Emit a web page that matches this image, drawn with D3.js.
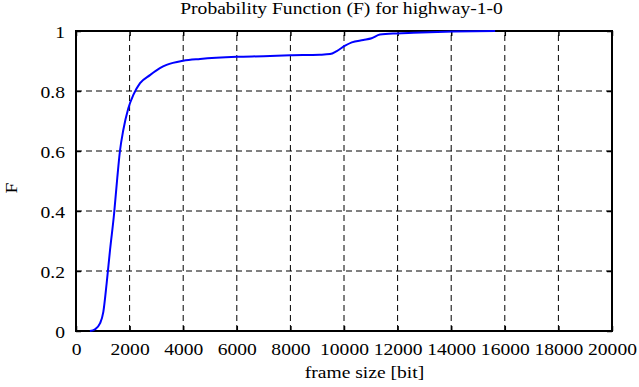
<!DOCTYPE html>
<html>
<head>
<meta charset="utf-8">
<script src="https://cdn.jsdelivr.net/npm/d3@7"></script>
<style>
  body { margin: 0; background: #fff; }
</style>
</head>
<body>
<div id="chart"></div>
<script>
// frame size [bit] and cumulative probability F
const frameSize = [520, 710, 900, 1020, 1145, 1270, 1420, 1540, 1640, 1765, 1950, 2140, 2390, 2760, 3130, 3380, 4000, 4630, 6000, 7000, 8000, 9100, 9480, 9730, 10040, 10290, 10720, 11030, 11340, 11970, 12590, 14080, 15640];
const probF = [0, 0.006, 0.026, 0.064, 0.16, 0.27, 0.39, 0.51, 0.60, 0.67, 0.742, 0.787, 0.826, 0.853, 0.876, 0.887, 0.901, 0.907, 0.914, 0.916, 0.919, 0.921, 0.923, 0.933, 0.951, 0.962, 0.97, 0.976, 0.988, 0.992, 0.994, 0.998, 1.0];
const xTicks = d3.range(0, 20001, 2000);
const yTicks = [0, 0.2, 0.4, 0.6, 0.8, 1];

const width = 639, height = 387;
const margin = { top: 31, right: 27, bottom: 56, left: 76 };
const stretch = 1.15; // glyphs in the reference are a bit wider than tall
const serif = "'Liberation Serif', 'Times New Roman', Times, 'DejaVu Serif', serif";

const x = d3.scaleLinear().domain([0, 20000]).range([margin.left, width - margin.right]);
const y = d3.scaleLinear().domain([0, 1]).range([height - margin.bottom, margin.top]);

const svg = d3.select("#chart").append("svg")
    .attr("width", width)
    .attr("height", height);

// dashed grid
svg.append("g")
    .selectAll("line")
    .data(xTicks.slice(1, -1))
    .enter().append("line")
    .attr("x1", d => x(d)).attr("x2", d => x(d))
    .attr("y1", y(0)).attr("y2", y(1))
    .attr("stroke", "#000").attr("stroke-width", 1)
    .attr("stroke-dasharray", "6,4");

svg.append("g")
    .selectAll("line")
    .data(yTicks.slice(1, -1))
    .enter().append("line")
    .attr("x1", x(0)).attr("x2", x(20000))
    .attr("y1", d => y(d)).attr("y2", d => y(d))
    .attr("stroke", "#000").attr("stroke-width", 1)
    .attr("stroke-dasharray", "6,4");

// axes with inward ticks, mirrored on the right / top
const xAxis = svg.append("g")
    .attr("transform", "translate(0," + y(0) + ")")
    .call(d3.axisBottom(x).tickValues(xTicks).tickSizeInner(-5).tickSizeOuter(0).tickFormat(d3.format("d")));
const xAxisTop = svg.append("g")
    .attr("transform", "translate(0," + y(1) + ")")
    .call(d3.axisTop(x).tickValues(xTicks).tickSizeInner(-5).tickSizeOuter(0).tickFormat(""));
const yAxis = svg.append("g")
    .attr("transform", "translate(" + x(0) + ",0)")
    .call(d3.axisLeft(y).tickValues(yTicks).tickSizeInner(-5).tickSizeOuter(0).tickPadding(11).tickFormat(d3.format("")));
const yAxisRight = svg.append("g")
    .attr("transform", "translate(" + x(20000) + ",0)")
    .call(d3.axisRight(y).tickValues(yTicks).tickSizeInner(-5).tickSizeOuter(0).tickFormat(""));

[xAxis, xAxisTop, yAxis, yAxisRight].forEach(g => {
    g.attr("font-family", serif).attr("font-size", 17);
    g.select(".domain").remove();
    g.selectAll("line").attr("stroke", "#000").attr("stroke-width", 1.5);
    g.selectAll("text").attr("fill", "#000");
});
xAxis.selectAll("text").attr("y", 24).attr("dy", 0);
yAxis.selectAll("text").attr("dy", "0.41em");

// frame
svg.append("rect")
    .attr("x", x(0)).attr("y", y(1))
    .attr("width", x(20000) - x(0))
    .attr("height", y(0) - y(1))
    .attr("fill", "none")
    .attr("stroke", "#000")
    .attr("stroke-width", 2);

// curve
const line = d3.line()
    .x((d, i) => x(frameSize[i]))
    .y(d => y(d))
    .curve(d3.curveMonotoneX);

svg.append("path")
    .datum(probF)
    .attr("d", line)
    .attr("fill", "none")
    .attr("stroke", "#0000ff")
    .attr("stroke-width", 2);

// labels
const labels = svg.append("g")
    .attr("font-family", serif)
    .attr("font-size", 17)
    .attr("fill", "#000");

labels.append("text")
    .attr("x", 341.5)
    .attr("y", 14)
    .attr("text-anchor", "middle")
    .text("Probability Function (F) for highway-1-0");

labels.append("text")
    .attr("x", 364.5)
    .attr("y", 378)
    .attr("text-anchor", "middle")
    .text("frame size [bit]");

labels.append("text")
    .attr("transform", "translate(17,188) rotate(-90)")
    .attr("text-anchor", "middle")
    .text("F");

// widen glyphs to match the reference raster
svg.selectAll("text").each(function () {
    const w = this.getComputedTextLength();
    if (w > 0) {
        d3.select(this)
            .attr("textLength", w * stretch)
            .attr("lengthAdjust", "spacingAndGlyphs");
    }
});
</script>
</body>
</html>
